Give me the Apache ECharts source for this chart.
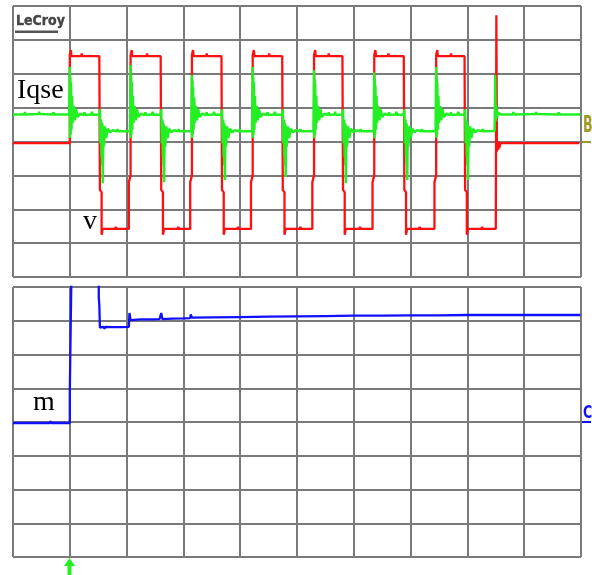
<!DOCTYPE html>
<html><head><meta charset="utf-8">
<script src="https://cdn.jsdelivr.net/npm/echarts@6/dist/echarts.min.js"></script>
<style>html,body{margin:0;padding:0;background:#fff}#c{width:592px;height:575px}</style>
</head><body><div id="c"></div>
<script>
// Oscilloscope traces, in screen divisions (x: 0..10 div, y: 0..8 div)
const xDivisions = [0, 10];
const yDivisions = [0, 8];
const traceLabels = ['Iqse', 'v', 'm'];

// Red trace (v), upper screen
const redTrace = [
 [0.00,3.95],[0.30,3.95],[0.31,3.90],[0.32,3.95],[0.75,3.95],[0.76,3.90],[0.77,3.95],[1.00,3.95],
 [1.00,6.55],[1.02,6.70],[1.03,6.52],[1.20,6.52],[1.21,6.60],[1.22,6.52],[1.52,6.52],[1.53,2.57],[1.56,2.50],[1.56,1.25],[1.58,1.42],[1.80,1.42],[1.81,1.48],[1.82,1.42],[2.04,1.42],
 [2.04,2.80],[2.07,3.00],[2.07,6.55],[2.09,6.70],[2.10,6.52],[2.35,6.52],[2.36,6.60],[2.37,6.52],[2.60,6.52],[2.61,2.57],[2.64,2.50],[2.64,1.25],[2.66,1.42],[2.90,1.42],[2.91,1.48],[2.92,1.42],[3.12,1.42],
 [3.12,2.80],[3.15,3.00],[3.15,6.55],[3.17,6.70],[3.18,6.52],[3.40,6.52],[3.41,6.60],[3.42,6.52],[3.67,6.52],[3.68,2.57],[3.71,2.50],[3.71,1.25],[3.73,1.42],[3.95,1.42],[3.96,1.48],[3.97,1.42],[4.19,1.42],
 [4.19,2.80],[4.22,3.00],[4.22,6.55],[4.24,6.70],[4.25,6.52],[4.50,6.52],[4.51,6.60],[4.52,6.52],[4.74,6.52],[4.75,2.57],[4.78,2.50],[4.78,1.25],[4.80,1.42],[5.05,1.42],[5.06,1.48],[5.07,1.42],[5.27,1.42],
 [5.27,2.80],[5.30,3.00],[5.30,6.55],[5.32,6.70],[5.33,6.52],[5.55,6.52],[5.56,6.60],[5.57,6.52],[5.80,6.52],[5.81,2.57],[5.84,2.50],[5.84,1.25],[5.86,1.42],[6.10,1.42],[6.11,1.48],[6.12,1.42],[6.33,1.42],
 [6.33,2.80],[6.36,3.00],[6.36,6.55],[6.38,6.70],[6.39,6.52],[6.60,6.52],[6.61,6.60],[6.62,6.52],[6.88,6.52],[6.89,2.57],[6.92,2.50],[6.92,1.25],[6.94,1.42],[7.15,1.42],[7.16,1.48],[7.17,1.42],[7.42,1.42],
 [7.42,2.80],[7.45,3.00],[7.45,6.55],[7.47,6.70],[7.48,6.52],[7.70,6.52],[7.71,6.60],[7.72,6.52],[7.95,6.52],[7.96,2.57],[7.99,2.50],[7.99,1.25],[8.01,1.42],[8.25,1.42],[8.26,1.48],[8.27,1.42],[8.50,1.42],
 [8.51,7.73],[8.52,3.70],[8.53,4.00],[8.54,3.75],[8.55,4.00],[8.56,3.80],[8.58,3.95],[9.00,3.95],[9.01,3.90],[9.02,3.95],[9.50,3.95],[9.51,3.90],[9.52,3.95],[9.97,3.95]
];

// Green trace (Iqse), upper screen
const greenTrace = [
 [0.00,4.80],[0.20,4.80],[0.21,4.87],[0.22,4.80],[0.45,4.81],[0.46,4.88],[0.47,4.81],[0.70,4.80],[0.71,4.86],[0.72,4.80],[0.99,4.80],
 [1.00,6.20],[1.005,4.10],[1.01,5.90],[1.015,4.20],[1.02,5.75],[1.03,4.35],[1.04,5.35],[1.05,4.55],[1.07,5.05],[1.09,4.62],[1.11,4.95],[1.14,4.72],[1.18,4.82],[1.25,4.78],[1.26,4.86],[1.27,4.78],[1.38,4.80],[1.39,4.88],[1.40,4.79],[1.52,4.80],
 [1.53,4.95],[1.54,3.95],[1.55,4.65],[1.56,3.55],[1.565,4.55],[1.57,3.30],[1.575,4.50],[1.58,2.77],[1.59,4.40],[1.60,3.85],[1.62,4.45],[1.64,4.10],[1.67,4.38],[1.71,4.27],[1.75,4.33],[1.83,4.30],[1.84,4.37],[1.85,4.30],[2.06,4.31],
 [2.07,6.26],[2.075,4.10],[2.08,5.95],[2.085,4.20],[2.09,5.75],[2.10,4.35],[2.11,5.35],[2.12,4.55],[2.14,5.05],[2.16,4.62],[2.18,4.95],[2.21,4.72],[2.25,4.82],[2.32,4.78],[2.33,4.86],[2.34,4.78],[2.45,4.80],[2.46,4.88],[2.47,4.79],[2.60,4.80],
 [2.61,4.95],[2.62,3.95],[2.63,4.65],[2.64,3.55],[2.645,4.55],[2.65,3.30],[2.655,4.50],[2.66,2.80],[2.67,4.40],[2.68,3.85],[2.70,4.45],[2.72,4.10],[2.75,4.38],[2.79,4.27],[2.83,4.33],[2.91,4.30],[2.92,4.37],[2.93,4.30],[3.14,4.31],
 [3.15,5.96],[3.155,4.10],[3.16,5.80],[3.165,4.20],[3.17,5.60],[3.18,4.35],[3.19,5.30],[3.20,4.55],[3.22,5.05],[3.24,4.62],[3.26,4.95],[3.29,4.72],[3.33,4.82],[3.40,4.78],[3.41,4.86],[3.42,4.78],[3.53,4.80],[3.54,4.88],[3.55,4.79],[3.67,4.80],
 [3.68,4.95],[3.69,3.95],[3.70,4.65],[3.71,3.55],[3.715,4.55],[3.72,3.30],[3.725,4.50],[3.73,2.86],[3.74,4.40],[3.75,3.85],[3.77,4.45],[3.79,4.10],[3.82,4.38],[3.86,4.27],[3.90,4.33],[3.98,4.30],[3.99,4.37],[4.00,4.30],[4.21,4.31],
 [4.22,6.20],[4.225,4.10],[4.23,5.90],[4.235,4.20],[4.24,5.75],[4.25,4.35],[4.26,5.35],[4.27,4.55],[4.29,5.05],[4.31,4.62],[4.33,4.95],[4.36,4.72],[4.40,4.82],[4.47,4.78],[4.48,4.86],[4.49,4.78],[4.60,4.80],[4.61,4.88],[4.62,4.79],[4.74,4.80],
 [4.75,4.95],[4.76,3.95],[4.77,4.65],[4.78,3.55],[4.785,4.55],[4.79,3.30],[4.795,4.50],[4.80,2.95],[4.81,4.40],[4.82,3.85],[4.84,4.45],[4.86,4.10],[4.89,4.38],[4.93,4.27],[4.97,4.33],[5.05,4.30],[5.06,4.37],[5.07,4.30],[5.29,4.31],
 [5.30,6.10],[5.305,4.10],[5.31,5.85],[5.315,4.20],[5.32,5.70],[5.33,4.35],[5.34,5.35],[5.35,4.55],[5.37,5.05],[5.39,4.62],[5.41,4.95],[5.44,4.72],[5.48,4.82],[5.55,4.78],[5.56,4.86],[5.57,4.78],[5.66,4.80],[5.67,4.88],[5.68,4.79],[5.80,4.80],
 [5.81,4.95],[5.82,3.95],[5.83,4.65],[5.84,3.55],[5.845,4.55],[5.85,3.30],[5.855,4.50],[5.86,2.77],[5.87,4.40],[5.88,3.85],[5.90,4.45],[5.92,4.10],[5.95,4.38],[5.99,4.27],[6.03,4.33],[6.11,4.30],[6.12,4.37],[6.13,4.30],[6.35,4.31],
 [6.36,6.04],[6.365,4.10],[6.37,5.85],[6.375,4.20],[6.38,5.65],[6.39,4.35],[6.40,5.35],[6.41,4.55],[6.43,5.05],[6.45,4.62],[6.47,4.95],[6.50,4.72],[6.54,4.82],[6.61,4.78],[6.62,4.86],[6.63,4.78],[6.74,4.80],[6.75,4.88],[6.76,4.79],[6.88,4.80],
 [6.89,4.95],[6.90,3.95],[6.91,4.65],[6.92,3.55],[6.925,4.55],[6.93,3.30],[6.935,4.50],[6.94,2.86],[6.95,4.40],[6.96,3.85],[6.98,4.45],[7.00,4.10],[7.03,4.38],[7.07,4.27],[7.11,4.33],[7.19,4.30],[7.20,4.37],[7.21,4.30],[7.44,4.31],
 [7.45,6.20],[7.455,4.10],[7.46,5.90],[7.465,4.20],[7.47,5.75],[7.48,4.35],[7.49,5.35],[7.50,4.55],[7.52,5.05],[7.54,4.62],[7.56,4.95],[7.59,4.72],[7.63,4.82],[7.70,4.78],[7.71,4.86],[7.72,4.78],[7.83,4.80],[7.84,4.88],[7.85,4.79],[7.95,4.80],
 [7.96,4.95],[7.97,3.95],[7.98,4.65],[7.99,3.55],[7.995,4.55],[8.00,3.30],[8.005,4.50],[8.01,2.86],[8.02,4.40],[8.03,3.85],[8.05,4.45],[8.07,4.10],[8.10,4.38],[8.14,4.27],[8.18,4.33],[8.26,4.30],[8.27,4.37],[8.28,4.30],[8.48,4.31],
 [8.49,5.96],[8.50,4.60],[8.51,5.05],[8.52,4.70],[8.54,4.86],[8.58,4.80],[8.80,4.80],[8.81,4.87],[8.82,4.80],[9.20,4.81],[9.21,4.87],[9.22,4.81],[9.60,4.80],[9.61,4.86],[9.62,4.80],[9.99,4.80]
];

// Blue trace (m), lower screen
const blueTrace = [
 [0.00,3.97],[0.15,3.97],[0.16,4.02],[0.17,3.97],[0.40,3.97],[0.41,4.02],[0.42,3.97],[0.65,3.97],[0.66,4.03],[0.67,3.97],[0.85,3.97],[0.86,4.02],[0.87,3.97],[1.00,3.97],
 [1.00,4.86],[1.03,4.86],[1.03,8.60],[1.51,8.60],[1.51,7.70],[1.52,7.45],[1.53,6.80],[1.60,6.82],[1.61,6.76],[1.62,6.82],[1.75,6.81],[1.76,6.76],[1.77,6.81],[1.90,6.81],[1.91,6.86],[1.92,6.81],[2.04,6.82],
 [2.05,7.23],[2.07,7.02],[2.25,7.04],[2.26,7.08],[2.27,7.04],[2.45,7.04],[2.46,7.00],[2.47,7.04],[2.58,7.05],[2.61,7.23],[2.63,7.05],[2.80,7.06],[2.81,7.02],[2.82,7.06],[3.00,7.07],[3.12,7.08],[3.13,7.19],[3.15,7.09],
 [3.50,7.10],[3.51,7.15],[3.52,7.10],[4.00,7.11],[4.01,7.15],[4.02,7.11],[4.50,7.12],[4.51,7.16],[4.52,7.12],[5.00,7.13],[5.50,7.14],[5.51,7.18],[5.52,7.14],[6.00,7.15],[6.50,7.15],[6.51,7.10],[6.52,7.15],
 [7.00,7.16],[7.50,7.16],[8.00,7.17],[8.50,7.17],[9.00,7.17],[9.50,7.17],[9.99,7.17]
];

const chart = echarts.init(document.getElementById('c'), null, {renderer: 'canvas'});
const gridLine = {show: true, lineStyle: {color: '#7a7a7a', width: 2}};
function xAx(g) {
  return {type: 'value', gridIndex: g, min: xDivisions[0], max: xDivisions[1], interval: 1,
    axisLine: {show: false}, axisTick: {show: false}, axisLabel: {show: false}, splitLine: gridLine};
}
function yAx(g) {
  return {type: 'value', gridIndex: g, min: yDivisions[0], max: yDivisions[1], interval: 1,
    axisLine: {show: false}, axisTick: {show: false}, axisLabel: {show: false}, splitLine: gridLine};
}
function trace(data, color, g, w) {
  return {type: 'line', xAxisIndex: g, yAxisIndex: g, data: data, symbol: 'none', showSymbol: false,
    clip: true, lineStyle: {color: color, width: w}, silent: true};
}
const serif = '"Liberation Serif", "DejaVu Serif", serif';
const condensed = '"DejaVu Sans Condensed", "DejaVu Sans", sans-serif';
chart.setOption({
  animation: false,
  backgroundColor: '#ffffff',
  grid: [
    {left: 13, top: 6, width: 568, height: 271, show: false},
    {left: 13, top: 287, width: 568, height: 270, show: false}
  ],
  xAxis: [xAx(0), xAx(1)],
  yAxis: [yAx(0), yAx(1)],
  series: [
    trace(redTrace, '#ff1010', 0, 2.3),
    trace(greenTrace, '#22f022', 0, 2.5),
    trace(blueTrace, '#1010ff', 1, 2.3)
  ],
  graphic: [
    {type: 'text', x: 16, y: 21, style: {text: 'LeCroy', font: 'bold 14px ' + condensed, fill: '#444444', stroke: '#555555', lineWidth: 0.4, verticalAlign: 'middle'}},
    {type: 'rect', shape: {x: 15, y: 30.5, width: 43, height: 2.5}, style: {fill: '#555555'}},
    {type: 'text', x: 17, y: 91, style: {text: traceLabels[0], font: '28px ' + serif, fill: '#000', verticalAlign: 'middle'}},
    {type: 'text', x: 83, y: 222, style: {text: traceLabels[1], font: '28px ' + serif, fill: '#000', verticalAlign: 'middle'}},
    {type: 'text', x: 33, y: 403, style: {text: traceLabels[2], font: '28px ' + serif, fill: '#000', verticalAlign: 'middle'}},
    {type: 'text', x: 583, y: 115, scaleY: 1.6, style: {text: 'B', font: 'bold 14px ' + condensed, fill: '#a09a28', verticalAlign: 'top'}},
    {type: 'rect', shape: {x: 581, y: 141, width: 10, height: 2}, style: {fill: '#a09a28'}},
    {type: 'text', x: 583, y: 404, scaleY: 1.3, style: {text: 'C', font: 'bold 14px ' + condensed, fill: '#1010ff', verticalAlign: 'top'}},
    {type: 'rect', shape: {x: 581, y: 421, width: 10, height: 2}, style: {fill: '#1010ff'}},
    {type: 'polygon', shape: {points: [[64, 566], [69.5, 558], [75, 566]]}, style: {fill: '#22f022'}},
    {type: 'rect', shape: {x: 67.5, y: 565, width: 4, height: 10}, style: {fill: '#22f022'}}
  ]
});
</script></body></html>
